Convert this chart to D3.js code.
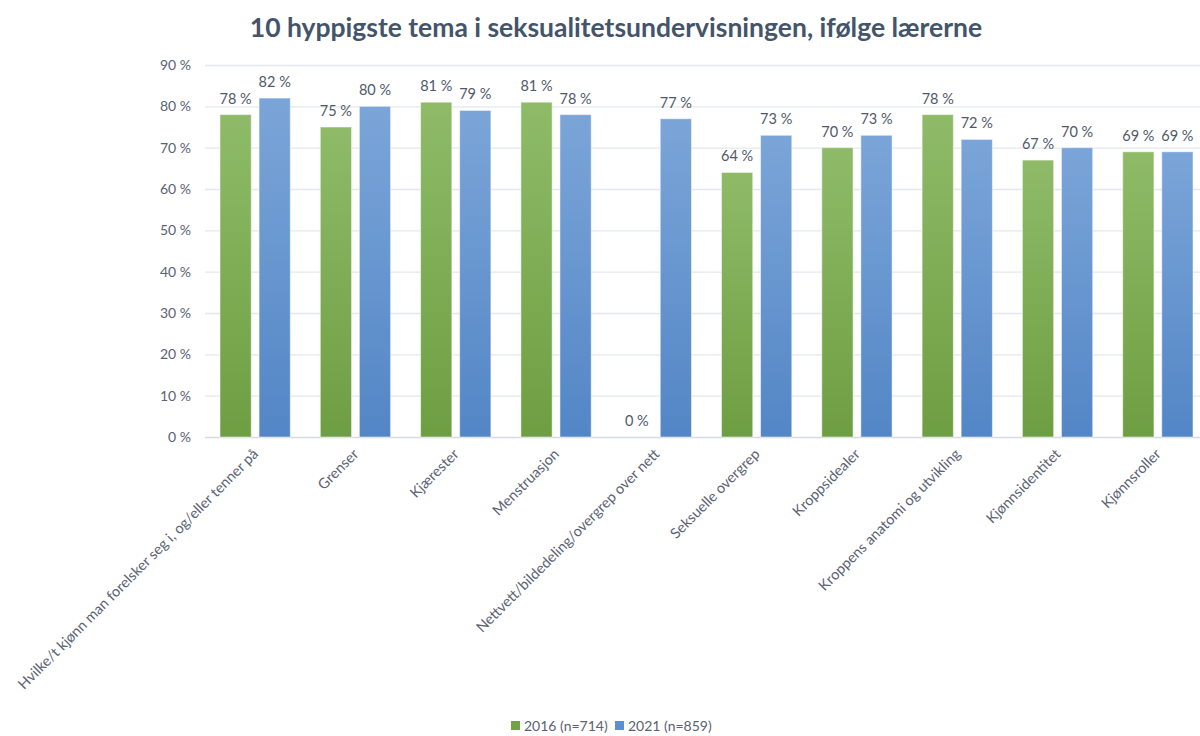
<!DOCTYPE html>
<html>
<head>
<meta charset="utf-8">
<script src="https://cdn.jsdelivr.net/npm/d3@7"></script>
<style>
  body { margin: 0; background: #fff; }
  svg { font-family: Lato, "Open Sans", sans-serif; }
</style>
</head>
<body>
<div id="chart"></div>
<script>
// data
var categories = [
    "Hvilke/t kjønn man forelsker seg i, og/eller tenner på",
    "Grenser",
    "Kjærester",
    "Menstruasjon",
    "Nettvett/bildedeling/overgrep over nett",
    "Seksuelle overgrep",
    "Kroppsidealer",
    "Kroppens anatomi og utvikling",
    "Kjønnsidentitet",
    "Kjønnsroller"
];
var series = ["2016 (n=714)", "2021 (n=859)"];
var values2016 = [78, 75, 81, 81, 0, 64, 70, 78, 67, 69];
var values2021 = [82, 80, 79, 78, 77, 73, 73, 72, 70, 69];
var yTicks = [0, 10, 20, 30, 40, 50, 60, 70, 80, 90];

var width = 1200;
var height = 736;
var margin = {top: 65, right: -8, bottom: 299, left: 205};

var svg = d3.select("#chart").append("svg")
    .attr("width", width)
    .attr("height", height);

// gradients for the bars
var defs = svg.append("defs");
var grads = [["g2016", "#8fbb68", "#6e9e42"], ["g2021", "#7ba5d8", "#5386c6"]];
grads.forEach(function(g) {
    var lg = defs.append("linearGradient")
        .attr("id", g[0])
        .attr("x1", 0).attr("y1", 0).attr("x2", 0).attr("y2", 1);
    lg.append("stop").attr("offset", "0%").attr("stop-color", g[1]);
    lg.append("stop").attr("offset", "100%").attr("stop-color", g[2]);
});

var x0 = d3.scaleBand()
    .domain(categories)
    .range([margin.left, width - margin.right])
    .padding(0);

var x1 = d3.scaleBand()
    .domain(series)
    .range([15, x0.bandwidth() - 15])
    .paddingInner(0.2);

var y = d3.scaleLinear()
    .domain([0, 90])
    .range([height - margin.bottom, margin.top]);

// gridlines
svg.append("g")
    .selectAll("line")
    .data(yTicks)
    .enter().append("line")
    .attr("x1", margin.left)
    .attr("x2", width - margin.right)
    .attr("y1", function(d) { return y(d) + 0.5; })
    .attr("y2", function(d) { return y(d) + 0.5; })
    .style("stroke", function(d) { return d === 0 ? "#d5dbe4" : "#e3e7ee"; })
    .style("stroke-width", 1.3);

// y axis labels
var yAxis = d3.axisLeft(y)
    .tickValues(yTicks)
    .tickSize(0)
    .tickPadding(14)
    .tickFormat(function(d) { return d + " %"; });

svg.append("g")
    .attr("class", "axis")
    .attr("transform", "translate(" + margin.left + ",0)")
    .call(yAxis)
    .call(function(g) { g.select(".domain").remove(); })
    .selectAll("text")
    .style("font-size", "14px")
    .style("fill", "#5a6273")
    .style("font-family", "Lato, sans-serif");

// rows for bars
var rows = categories.map(function(c, i) {
    return {cat: c, vals: [
        {key: series[0], v: values2016[i], fill: "url(#g2016)"},
        {key: series[1], v: values2021[i], fill: "url(#g2021)"}
    ]};
});

var groups = svg.selectAll(".grp")
    .data(rows)
    .enter().append("g")
    .attr("class", "grp")
    .attr("transform", function(d) { return "translate(" + x0(d.cat) + ",0)"; });

groups.selectAll("rect")
    .data(function(d) { return d.vals; })
    .enter().append("rect")
    .attr("x", function(d) { return x1(d.key); })
    .attr("width", x1.bandwidth())
    .attr("y", function(d) { return y(d.v); })
    .attr("height", function(d) { return y(0) - y(d.v); })
    .style("fill", function(d) { return d.fill; })
    .style("stroke", "#ffffff")
    .style("stroke-opacity", 0.5)
    .style("stroke-width", 1);

// value labels
groups.selectAll(".val")
    .data(function(d) { return d.vals; })
    .enter().append("text")
    .attr("class", "val")
    .attr("x", function(d) { return x1(d.key) + x1.bandwidth() / 2; })
    .attr("y", function(d) { return y(d.v) - 11; })
    .attr("text-anchor", "middle")
    .style("font-size", "14.5px")
    .style("fill", "#4f586a")
    .text(function(d) { return d.v + " %"; });

// category labels, rotated
svg.append("g")
    .selectAll("text")
    .data(categories)
    .enter().append("text")
    .attr("transform", function(d) {
        return "translate(" + (x0(d) + x0.bandwidth() / 2 + 4) + "," + (y(0) + 18) + ") rotate(-45)";
    })
    .attr("text-anchor", "end")
    .style("font-size", "14.5px")
    .style("fill", "#5a6273")
    .text(function(d) { return d; });

// title
svg.append("text")
    .attr("x", 616)
    .attr("y", 37)
    .attr("text-anchor", "middle")
    .style("font-size", "26.5px")
    .style("font-weight", "bold")
    .style("fill", "#44546a")
    .text("10 hyppigste tema i seksualitetsundervisningen, ifølge lærerne");

// legend
var legendX = [511, 615];
var legendColors = ["#72a447", "#5b8fd0"];
var legend = svg.selectAll(".legend")
    .data(series)
    .enter().append("g")
    .attr("class", "legend")
    .attr("transform", function(d, i) { return "translate(" + legendX[i] + ",721)"; });

legend.append("rect")
    .attr("width", 9)
    .attr("height", 9)
    .style("fill", function(d, i) { return legendColors[i]; });

legend.append("text")
    .attr("x", 13)
    .attr("y", 9.5)
    .style("font-size", "14px")
    .style("fill", "#5a6273")
    .text(function(d) { return d; });
</script>
</body>
</html>
